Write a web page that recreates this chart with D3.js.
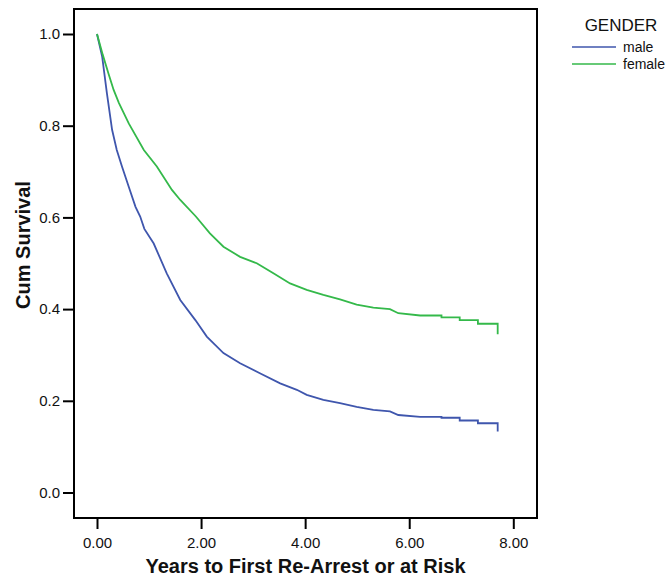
<!DOCTYPE html>
<html>
<head>
<meta charset="utf-8">
<script src="https://cdn.jsdelivr.net/npm/d3@7"></script>
<style>
  body { margin: 0; background: #fff; }
  text { font-family: "Liberation Sans", Arial, sans-serif; fill: #111; }
  .axis .domain { display: none; }
  .axis line { stroke: #000; stroke-width: 2; }
</style>
</head>
<body>
<div id="chart"></div>
<script>
// survival data (years, cumulative survival)
var maleTime = [0, 0.10, 0.19, 0.29, 0.38, 0.48, 0.61, 0.74, 0.83, 0.91, 1.09, 1.34, 1.60, 1.89, 2.11, 2.43, 2.75, 3.13, 3.52, 3.84, 4.03, 4.35, 4.67, 4.99, 5.31, 5.63, 5.79, 6.21, 6.62, 6.62, 6.97, 6.97, 7.32, 7.32, 7.70, 7.70];
var maleSurv = [1.0, 0.950, 0.871, 0.791, 0.747, 0.711, 0.667, 0.623, 0.602, 0.575, 0.543, 0.478, 0.420, 0.376, 0.340, 0.304, 0.282, 0.260, 0.238, 0.224, 0.213, 0.202, 0.195, 0.187, 0.180, 0.177, 0.169, 0.165, 0.165, 0.163, 0.163, 0.157, 0.157, 0.151, 0.151, 0.133];

var femaleTime = [0, 0.11, 0.22, 0.32, 0.42, 0.61, 0.90, 1.15, 1.44, 1.60, 1.90, 2.17, 2.43, 2.75, 3.07, 3.39, 3.71, 4.03, 4.35, 4.67, 4.99, 5.31, 5.63, 5.79, 6.21, 6.62, 6.62, 6.97, 6.97, 7.32, 7.32, 7.70, 7.70];
var femaleSurv = [1.0, 0.955, 0.914, 0.878, 0.850, 0.805, 0.747, 0.711, 0.660, 0.638, 0.602, 0.565, 0.536, 0.514, 0.500, 0.478, 0.456, 0.442, 0.431, 0.421, 0.410, 0.403, 0.400, 0.391, 0.386, 0.386, 0.382, 0.382, 0.376, 0.376, 0.368, 0.368, 0.345];

var groups = ["male", "female"];
var colors = ["#3f56ad", "#34b94a"];
var xTicks = [0, 2, 4, 6, 8];
var yTicks = [0, 0.2, 0.4, 0.6, 0.8, 1.0];

var W = 672, H = 580;
// frame of the plot area
var frame = {left: 74, top: 9, right: 537, bottom: 518};

var svg = d3.select("#chart")
  .append("svg")
    .attr("width", W)
    .attr("height", H);

var x = d3.scaleLinear().domain([0, 8]).range([97, 513.3]);
var y = d3.scaleLinear().domain([0, 1]).range([492.5, 34]);

// y axis
svg.append("g")
  .attr("class", "axis")
  .attr("transform", "translate(" + frame.left + ",0)")
  .call(d3.axisLeft(y).tickValues(yTicks).tickFormat(d3.format(".1f")).tickSize(11).tickPadding(3))
  .selectAll("text")
    .style("font-size", "15px")
    .style("font-family", "Liberation Sans, Arial, sans-serif");

// x axis
svg.append("g")
  .attr("class", "axis")
  .attr("transform", "translate(0," + frame.bottom + ")")
  .call(d3.axisBottom(x).tickValues(xTicks).tickFormat(d3.format(".2f")).tickSize(11).tickPadding(8))
  .selectAll("text")
    .style("font-size", "15px")
    .style("font-family", "Liberation Sans, Arial, sans-serif");

// frame
svg.append("rect")
  .attr("x", frame.left)
  .attr("y", frame.top)
  .attr("width", frame.right - frame.left)
  .attr("height", frame.bottom - frame.top)
  .attr("fill", "none")
  .attr("stroke", "#000")
  .attr("stroke-width", 2);

// curves
var line = d3.line()
  .x(function(d) { return x(d[0]); })
  .y(function(d) { return y(d[1]); });

var series = [d3.zip(maleTime, maleSurv), d3.zip(femaleTime, femaleSurv)];

svg.selectAll(".curve")
  .data(series)
  .enter()
  .append("path")
    .attr("class", "curve")
    .attr("d", line)
    .attr("fill", "none")
    .attr("stroke", function(d, i) { return colors[i]; })
    .attr("stroke-width", 1.8);

// axis titles
svg.append("text")
  .attr("x", (frame.left + frame.right) / 2)
  .attr("y", 573)
  .style("text-anchor", "middle")
  .style("font-weight", "bold")
  .style("font-size", "20px")
  .text("Years to First Re-Arrest or at Risk");

svg.append("text")
  .attr("transform", "rotate(-90)")
  .attr("x", -245)
  .attr("y", 30)
  .style("text-anchor", "middle")
  .style("font-weight", "bold")
  .style("font-size", "20px")
  .text("Cum Survival");

// legend
svg.append("text")
  .attr("x", 621)
  .attr("y", 31)
  .style("text-anchor", "middle")
  .style("font-size", "17px")
  .text("GENDER");

var leg = svg.selectAll(".leg")
  .data(groups)
  .enter()
  .append("g")
    .attr("class", "leg")
    .attr("transform", function(d, i) { return "translate(0," + (47 + i * 17) + ")"; });

leg.append("line")
  .attr("x1", 572)
  .attr("x2", 616)
  .attr("stroke", function(d, i) { return colors[i]; })
  .attr("stroke-width", 1.7);

leg.append("text")
  .attr("x", 623)
  .attr("dy", "0.35em")
  .style("font-size", "14px")
  .text(function(d) { return d; });
</script>
</body>
</html>
